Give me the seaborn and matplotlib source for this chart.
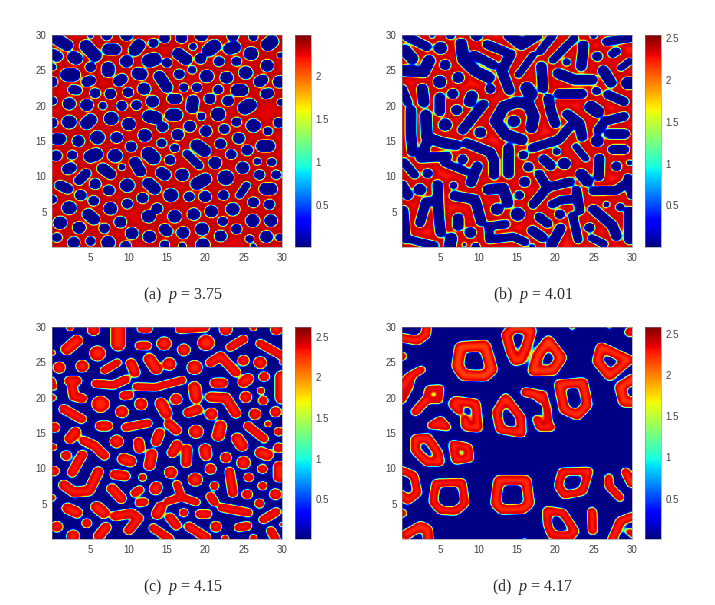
import matplotlib
matplotlib.use("Agg")
import matplotlib.pyplot as plt
import numpy as np
import seaborn as sns

# Shapes in axis units: (half width, x0, y0, x1, y1, ...)
# The heatmap cells are derived from these, they are not read one by one.
SHAPES_A = [
    (.8,.5,29.5,1.9,28.6),(.85,4.4,28.5,5.6,27.1),(.8,7.3,28,8.2,28),(.85,10.8,27.9,11.3,28.6),
    (.65,13.2,28.9),(.7,14.7,29.6),(.75,16.9,29.6),(.5,18.4,28.4),(.9,20.5,27.9,21.2,28.5),
    (.85,23.2,28.1,23.8,28.3),(.95,26,27.4),(.9,28.2,28.7,28.7,29.1),(.4,5,30),(.7,7.1,30),
    (.8,9.7,30),(.85,19.5,30),(.8,23.6,30),(.6,26.3,29.8),(.75,.1,27.3,.6,27),(.85,2.8,26.9,3.1,26.7),
    (.85,9.7,26.3),(.95,12.7,26.4,13.3,26.6),(.65,15,26.1),(.8,16.5,27.4,17.5,26.6),(.75,19.4,26.7),
    (.7,21.8,26.3),(.65,24.1,26.3),(.85,28.1,25.7),(.4,29.8,27.2),(.5,0,25.5),(.7,5,25.5),
    (.85,7.3,25.4,7.3,24.9),(.95,2,24.4,2.7,24.4),(.7,4.5,23.4,5,23.6),(.75,8.7,23.5,9.1,23.8),
    (.85,11.2,24.6,11.6,24.5),(.75,14,24.2,15,22.6),(.7,16.6,24.5),(.55,18.3,25.1),(.9,20.2,24.2),
    (.85,22.8,24),(.9,25.3,24.7),(.75,27.1,23.4,27.5,23.7),(.85,29.7,23.4),(.7,0,23.4),
    (.65,2.7,22.3,3.2,22.2),(.7,5.6,21.8),(.75,7.6,21.7),(.7,9.9,21.9),(.85,12,22.4),(.6,17.2,22.6),
    (.65,18.9,22.6),(.65,21.7,22.3),(.85,24.2,22.2,24.8,22.2),(.7,27.9,21.7,28.3,21.8),(.6,0,20.7),
    (.85,2.2,20.3),(.85,4.5,20.1),(.55,6.6,20),(.7,9.1,20),(.7,11,20.1),(.85,13.1,20.6),
    (.7,15.7,21,16.3,21),(.8,18.3,19.7,18.4,20.7),(.75,20.6,21),(.75,23,20.7),(.95,25.2,19.7,25.8,20.1),
    (.5,29.9,20.5),(.55,19.5,18.5),(.95,21.7,18.8),(.85,15.6,18.7,16.2,18.7),(.9,12.7,18.5,13.5,18.3),
    (.95,7.7,18.2),(.85,4.5,17.5,5,18),(.95,2.2,17.7),(.7,0,17.6),(.9,10,17.4),(.75,14.4,17),(.8,18,17.1),
    (.8,20.1,16.4),(.7,22.5,16.7),(.65,24.1,17.7),(.95,26.3,17.2),(.7,29.6,17.6),(.8,16.4,15.9),
    (.6,28.2,16.4),(.9,12.1,15.8),(.95,5.9,15.5),(.8,8.4,15.5),(.8,.5,15.3,1,15.3),(.8,3.4,15),
    (.65,14.3,14.7),(.8,24.4,15.4),(.85,27.5,14.3,28.3,14.3),(.75,22,14.6),(.6,16,14),(.75,10.3,14.2),
    (.85,18.9,14.4,19.9,13.6),(.95,8.2,12.9),(.9,5,12.8,5.7,13.1),(.65,2.6,13),(.75,.5,12.9),
    (.95,12.6,13.2,13.2,12.6),(.7,15.4,12.3),(.55,17.6,13.2,19.2,11.5),(.7,23.4,13.1),(.75,25.5,13.7),
    (.85,21.3,11.9),(.5,26.8,12.1),(.6,28.7,12),(.45,9.1,11.3),(.75,10.8,12,11.5,10.7),(.75,2,11,2.4,11.2),
    (.75,6.6,11.1,7.6,10.3),(.8,14.3,10.5,14.7,10.2),(.9,17,10.2),(.85,24.9,11.2),(.7,27.1,10.2),
    (.65,29.3,10.2),(.65,3.5,9.4,4.4,10.4),(.75,5.6,8.9),(.95,9.8,8.7),(.8,12.6,9,13.4,8.2),
    (.85,18.9,8.9,20,9.6),(1.05,22.7,9.8),(.7,1,8.7,2,8.2),(.75,7.4,8),(.75,3.7,7.3),(.95,15.5,7.3),
    (.7,17.9,7.1),(.8,20,7.1),(.7,22.4,7.3),(.5,25.4,8.7,24.5,7.3),(.85,27.9,8.2,28.6,8.2),(.75,11.8,6.9),
    (.7,5.4,6.5),(.7,9.8,6.1),(.75,26.3,6.3),(.7,28.4,6),(.6,0,6.7),(.95,2.2,5.5),(.9,7.6,5.4),
    (.75,13.7,5.4),(.85,18.5,4.6),(.9,16,4.3),(.85,20.8,5),(.9,23.6,5.3),(.8,4.7,4.6,5.4,3.9),
    (.9,12.6,4.3),(.8,8.9,3.5),(.9,26.2,3.7),(.85,28.6,3.7),(.9,1,3.4),(.65,22.3,3.6),(.85,3.5,2.7),
    (.7,6.8,2.6),(.75,14.7,2.5,15,2.2),(.7,24.1,2.5),(.9,19.6,2.5),(.85,17.1,2),(.85,10.4,1.9),
    (.85,12.7,1.4),(.8,22,1.5),(.55,25.8,1.1),(.85,28,1.4),(.65,.6,1.3),(.8,2.8,.6),(.65,5,.8),
    (.9,7.3,.6),(.7,9.6,.1),(.6,14.7,.3),(.5,17,.1),(.9,19.7,.3),(.4,26.3,0),(.5,29.7,1.3),
]

SHAPES_B = [
    (.65,.6,29.8,3.2,28.4),(.4,3.9,30),(.6,6.3,30),(.9,5,28.2),(.8,.3,27.9,1.3,26.7),(.8,9.7,30),
    (.65,11.1,28.7,13.4,27.7),(.8,7.7,28.8,8,26.5,9.6,24.9,11.3,24),(.65,9.4,27.2,11.9,25.8),
    (.8,0,25,2.8,24.8,3.5,26.4),(.75,5.6,25.8),(.8,7.3,24),(.9,4.9,23.4),(.7,14.2,27.3,13,25,14,22.2),
    (.5,17.1,27.2,15.2,24.4),(.8,14,30,15.6,28.7,17.5,30),(.55,19.7,30,18,27.7),(.55,22.5,29.6,19.7,26.5),
    (.55,21.5,26.2),(.7,23.7,28.6,23.4,25.6),(.7,25.5,27),(.6,27.5,27.4,28,27.7),(.6,26.7,29.1,29.8,29.6),
    (.5,25,30),(.7,18.2,25.6,18.4,22.5),(.75,20.4,24.6,22.5,23.7,24.8,23.7),(.75,26.3,25,27.3,23.3),
    (.5,28.6,25.4,29.7,26.3),(.9,29.5,23.2,29.7,23.2),(.9,16.3,22.5,16.8,21.6),(.75,2.6,22.4,2.8,20.5),
    (.6,0,22.4,.7,20.5),(.75,6.6,21.7),(.8,9.1,21.4,8.8,20.6),(.7,11.5,22.4),(.7,4.9,21.2,4.9,19.2),
    (.75,7.1,19.4),(.7,20.5,21.7,23.5,21.7),(.6,25.4,22.1),(.65,26.9,21.6,29,20.6),(.9,24.7,19.8,25.5,19.2),
    (.8,15.6,15.2,13.5,15.9,12.2,17.8,13.3,19.9,15,20.5,16.5,20.2,17.2,18.5,16.9,16.9),(.85,14.6,17.8),
    (.7,19.1,21,19.5,19,20,17.5),(.7,1.1,19.4,1.1,16,1.3,13.5),(.75,3.1,18.7,3.2,15.6,5,14.8,7,14.4),
    (.7,3.3,15,2.4,12.6,5.8,12.8),(.55,5.5,11.9,8.3,10.7),(.9,5.6,17.3),(.7,10.6,20.2,7.9,16.6),
    (.8,10.2,16.2),(.7,7.9,12.4),(.7,8.4,14.7,11.5,13.4,12,12.2,12,10.2),(.7,13.9,14,13.9,10.3),
    (.7,9.8,11.4,9,9.1),(.65,15.8,13),(.65,21.9,17,20.5,15.2,17,14),(.7,21.6,18.8,23.2,17.5,23.5,15.6),
    (.65,29,18.5,26.5,17.8,25.6,16.5),(.7,27.1,16,29.1,16),(.85,25.5,15),(.7,27.6,13.8,29,13.8),
    (.55,20.2,13.5),(.5,22.7,14.2,24,12.5),(.7,18.5,12.4,19.4,11.5),(.85,21.2,11.8),(.7,16.5,11.3),
    (.7,25.8,12.5,25.7,10),(.7,28,11.4),(.4,29.7,11.9),(.8,23.4,10.3,24.2,9.3),(.6,.2,12,1.6,10.2),
    (.7,3.3,10.4),(.7,0,8.7,.7,7.3),(.85,2.3,8.1),(.55,6.7,8.7),(.7,4.6,8.8,4.8,4,5,2),
    (.65,4.7,6.5,3.1,6.4,2.3,3.4),(.75,16,9.2),(.75,11.2,8.1,13.2,8.3,13.8,6.2),
    (.7,6.8,7.2,9.5,6.7,10.3,3.6),(.85,12.4,5.3),(.65,15.3,7.3),(.65,17.9,10.3,19,8.4,17.1,6),
    (.65,19,8.4,21.9,9.2),(.6,19.6,6,20.7,6.6,22,6.7),(.65,22.8,8,23.2,5.1),(.65,25,7.9,28,8,29.3,9),
    (.6,29.5,9.8,30,7.3),(.45,26.7,6),(.6,28.5,5.6),(.7,29.7,5,29.7,1),(.7,25,5.3,27.5,3,28,1.5),
    (.75,7.3,4,7.3,3),(.95,15.1,4.6),(.6,.2,5.2,.5,1),(.65,17.9,4.2,19,3.3),(.7,20.6,4.6),
    (.6,22.3,4.4,23,1),(.7,24.5,2.7),(.8,8.9,2),(.6,13.5,3.2,11.3,2.9,11.4,1,14.5,1.4,16,.7),
    (.7,17,2.3,18.3,1.3),(.7,20.7,2.6,19.5,.2),(.55,1,1,4.2,.2),(.8,6.4,1.2,6.2,0),(.3,8.1,.3),
    (.6,9.6,0),(.4,17,0),(.55,24.8,1.2,26.4,.4),
]

SHAPES_C = [
    (.5,2.3,30),(.8,5.4,29.6),(.95,8.6,29.8,8.6,27.6),(.6,11.7,29.8,12.5,29.8),(.6,16.7,29.7,20,30),
    (.85,22.7,29.7),(.5,26.3,30),(.8,29.3,29.7),(.8,1.9,26.9,3.2,28.1),(.4,0,26.4),(1.05,5.9,26.3),
    (.6,11.4,27.4,12.4,27.4),(.95,14.6,27.7),(.85,17.2,26.8),(1.1,20.1,27.8),(.6,23.3,27.2,25,28.3),
    (.6,27.2,27.7,30,26),(.8,.9,24.3),(.85,3.9,24.5),(.55,6.8,23.9,8.5,25),(.7,10.3,24.9,10.8,23.6),
    (.8,12.7,25.5,13.6,24.1),(.9,15.3,24.8),(1,18.6,24.3),(.65,20.7,25,22,25.9,24,23.6),(.75,25,25.3),
    (.85,27.2,25),(.3,30,25),(.4,0,22.5,.2,21.5),(.5,0,20),(.65,2.2,22.4,3.2,22.4),
    (.65,2.5,22.4,2.8,20.2,3.9,19.9),(.6,5.7,22,8,21.8,9.6,22.6),(.55,11,21.6,13.5,21.5,17,22.5),
    (.7,21.3,22.1,22.3,22.1),(.75,25,22.2,25.6,22.7),(.7,27.7,23),(.5,27.3,21),(.85,30,23,30,20),
    (.8,18.6,21.5,18.8,20),(.65,9.4,20.3,10,20.4),(.8,16.2,19.8),(1.15,6.3,19.1),(.85,11.6,19.1),
    (.8,14.2,19.2,14.9,17.8),(.7,20.7,20.1,22.7,20,24,17.8),(.8,25.3,20.1),(.65,27.6,19.6),(.85,9.1,18),
    (.65,1.5,18.4,3.8,17),(.7,17.8,17.9,19,18.3),(.85,20.8,17.7),(.8,26.5,17.7),(.75,29.2,18),
    (.7,6.3,16,7.2,16),(.6,9.6,15.8,12.5,16.4),(.7,15.3,16.3,16.2,15.4),(.95,18.8,15.2),
    (.8,22,16,21.7,14.6),(.6,25.6,16,27.7,14.2),(.45,28.2,16.3),(.6,29.6,15.2),(.7,.3,15.8),
    (.75,2.3,14.2,3,15.1),(.7,13.6,13.8,14,15),(.8,24.2,14.2,24.8,13.2),(.9,8.4,13.8),
    (.7,11.3,13.7,11.4,12.8),(.65,4.1,13.9,5.5,13.2,6.8,11.8),(.7,15.7,12.2,16.3,13.3),(.5,.1,13),
    (.7,1.8,11.8),(.7,17.6,12.7,17.5,10.8),(.8,20,12.7,20.1,11.9),(.8,27.3,12.2,28.1,11.9),(.7,29.6,12.9),
    (.75,22.7,11.5),(.9,25,10.8),(.75,13,12,12.7,10.4),(.8,9.3,11.3,10.2,11),(.65,3.9,11.9,2.6,9.4),
    (.7,.2,9.6),(.75,20.7,9.9),(.65,27.5,9.9),(.8,29.7,10.2,29.7,8.8),(.85,15.5,9.4),
    (.7,1.5,7.6,2.8,6.6,4.8,6.8,6,9.5),(.7,8.2,9.1,9.5,8.9),(.55,11.8,8.7),(.95,18.7,8.4),
    (.65,23.2,9.5,23.6,6.5),(.65,25.7,8.7),(.6,27.5,7.5),(.6,21.2,7.5),(.8,13.6,7.3,13.5,7),
    (.55,16.3,7.7,16.9,5.9),(.55,15.1,5.3,16.9,5.9,18.8,5.2),(.7,7.8,7.1,9,5.7),(.6,10.8,6.5,11.4,6.9),
    (.6,20.7,6,21.2,5.2),(.7,25.5,6.3),(.8,29.2,6.3),(.45,0,5.8),(.75,2,4.3,3.2,3.7),(.8,5.8,4.5,6.7,3.7),
    (.6,11.4,5.1,12,5.2),(.75,13.7,3.5,14.2,4.5),(.65,27.1,5),(.6,22.2,4.4,25.6,3.7),(.6,17.2,3.7),
    (.6,19.3,3.5,20.3,3.5),(.6,27.6,2.7,29.3,3.8),(.65,8.2,3.2,10.3,3.6,11.3,2.9,10,1.2),(.65,4.5,2.2),
    (.65,15.4,3,16.2,1.9),(.75,.6,1.7),(.75,21.4,1.7),(.6,24.4,1.6,25.5,1.8),(.85,2.7,.4),
    (.7,7,1.6,6.1,.4),(.6,13.2,1.5,15.3,0),(.65,17.9,1.7,20.1,.2),(.5,22.6,0),(.5,26.3,.1),
    (.6,28.6,1.1,29.2,0),(.3,30,2),
]

SHAPES_D = [
    (.65,-.5,28.6,2,28.1,3.1,29,3.2,30.5),(.65,0,25.9),
    (.8,7.6,27.2,10.8,27.4,11.7,24,10.8,23.1,8,23.2,7.2,24.5,7.6,27.2),
    (.7,13.6,29,14.7,30,16.9,29.5,16.2,27.2,15.5,25.4,14.8,25.2,14.2,26.5,13.6,29),
    (.75,19.1,28.1,20.8,25.7,19.7,23.9,17.1,23.8,17.8,26.1,19.1,28.1),
    (.7,26,27.2,29.6,25.4,27.1,23.1,25.5,25.2,26,27.2),(.75,30.2,22.7,28.5,21.5,29,19.4,30.3,19.4),
    (.7,20.5,21.9,23.6,22.2,24.2,19,22.9,17.5,21.2,18.3,20.5,21.9),(.6,2.5,24,.8,23,0,21.4),
    (.45,1.3,23,1,21.5,0,19.5),(.5,3.4,21.3,5,21.4,4.8,19.6,3.1,19.7,3.4,21.3),(.65,3.1,19.7,1.7,18),
    (.55,3.7,16.1,5,16.9,5.9,15.8,3.7,16.1),(.65,6.9,19.6,9.6,19.2,9.9,15.7,8.3,15.9,8.2,17),
    (.65,6.6,19.1,7.4,18.2),(.65,12.35,18,13.5,20,15.5,17.2,15.6,15,12.8,15.5,12.35,18),
    (.7,16.1,20.8,17.5,20.5,18,19.9),(.55,18.4,20.6,18.9,18.5,19.2,15.9),(.6,17.6,17,18,15.8,19.5,15.8),
    (.65,1.7,14.2,3.3,14.3,4.6,12.3,4.9,10.9,3.2,10.9,1.7,12.5,1.7,14.2),
    (.6,6.6,13.4,8.6,13,8.8,11.4,7,11.1,6.6,13.4),(.6,-.3,9.8,1.5,9,2,6.5,.7,5.4,-.3,6.5),
    (.6,4.4,7.9,7.8,8,8.2,5,7,3.9,5,4,4,5.2,4.4,7.9),
    (.7,12.6,8.3,16.2,8.3,16.6,5,15.8,4.2,13,4.1,12.2,5,12.6,8.3),
    (.6,20.9,9.5,24.4,9.6,23.6,6.7,21.2,6.2,20.4,7.5,20.9,9.5),(.6,27,8.7,27,7.5,28.5,5.8),
    (.65,29.2,9.5,30,7.8),(.65,0,3.6),(.65,24.8,3.9,24.9,1.1),
    (.6,18.9,4,21,3.7,22.6,1,22,.4,19.5,.6,19,2,18.9,4),(.7,.5,.6,2.4,1.8,3.3,1.3,3.4,-.3),
    (.65,27.4,-.3,28.5,2.5,30.5,3.3),(.5,29.6,1,30.3,.5),(.3,16,0),(.45,22.2,30),(.35,27.1,30),(.7,29.7,29.3),
]

XTICKS = [5, 10, 15, 20, 25, 30]
YTICKS = [5, 10, 15, 20, 25, 30]
CAPTIONS = ["(a)", "(b)", "(c)", "(d)"]
P_VALUES = ["3.75", "4.01", "4.15", "4.17"]
VMIN = [0.01, 0.0, 0.01, 0.01]
VMAX = [2.47, 2.54, 2.62, 2.58]
PEAK = [2.36, 2.4, 2.44, 2.44]
INNER = [2.26, 2.26, 2.28, 2.05]
CBAR_TICKS = [
    [0.5, 1, 1.5, 2],
    [0.5, 1, 1.5, 2, 2.5],
    [0.5, 1, 1.5, 2, 2.5],
    [0.5, 1, 1.5, 2, 2.5],
]
# rounding of the measured outlines and the loss it causes, per panel
SMOOTH = [0.14, 0.18, 0.18, 0.3]
GROW = [0.05, 0.03, 0.05, 0.0]

W, H = 715, 605
N = 300


def shape_distance(xx, yy, shapes):
    """Signed distance to the nearest shape edge, negative inside a shape."""
    out = np.full(xx.shape, np.inf)
    for shape in shapes:
        r = shape[0]
        pts = np.array(shape[1:]).reshape(-1, 2)
        if len(pts) == 1:
            pts = np.vstack([pts, pts])
        for a, b in zip(pts[:-1], pts[1:]):
            ab = b - a
            t = (xx - a[0]) * ab[0] + (yy - a[1]) * ab[1]
            t = np.clip(t / max(ab @ ab, 1e-9), 0, 1)
            d = np.hypot(xx - a[0] - t * ab[0], yy - a[1] - t * ab[1]) - r
            out = np.minimum(out, d)
    return out


def blur(field, sigma):
    """Gaussian blur through the FFT, padded so that the edges do not wrap."""
    pad = 60
    big = np.pad(field, pad, mode="edge")
    fy = np.fft.fftfreq(big.shape[0])
    fx = np.fft.rfftfreq(big.shape[1])
    gain = np.exp(-2 * (np.pi * sigma) ** 2 * (fy[:, None] ** 2 + fx[None, :] ** 2))
    big = np.fft.irfft2(np.fft.rfft2(big) * gain, s=big.shape)
    return big[pad:-pad, pad:-pad]


def build_field(shapes, high_inside, i):
    xs = np.linspace(0, 30, N)
    ys = np.linspace(30, 0, N)
    xx, yy = np.meshgrid(xs, ys)
    depth = shape_distance(xx, yy, shapes)
    depth = blur(depth, SMOOTH[i] / 30 * N) - GROW[i]
    if high_inside:
        depth = -depth
    rim = 0.5 * (1 + np.tanh(depth / 0.09))
    crest = PEAK[i] - (PEAK[i] - INNER[i]) * np.clip((depth - 0.15) / 0.6, 0, 1)
    return VMIN[i] + 0.02 + (crest - VMIN[i] - 0.02) * rim


def panel(fig, field, left, top, i):
    ax = fig.add_axes([left / W, 1 - (top + 212) / H, 230 / W, 212 / H])
    cax = fig.add_axes([(left + 243) / W, 1 - (top + 212) / H, 16 / W, 212 / H])
    sns.heatmap(
        field,
        ax=ax,
        cbar_ax=cax,
        cmap="jet",
        vmin=VMIN[i],
        vmax=VMAX[i],
        xticklabels=False,
        yticklabels=False,
    )
    ax.set_xticks([v / 30 * N for v in XTICKS], [str(v) for v in XTICKS])
    ax.set_yticks(
        [(30 - v) / 30 * N for v in YTICKS],
        [str(v) for v in YTICKS],
        rotation=0,
    )
    ax.tick_params(length=0, labelsize=7, labelcolor="#404040", pad=4)
    for s in ax.spines.values():
        s.set_visible(True)
        s.set_linewidth(0.4)
        s.set_color("#808080")

    cbar = ax.collections[0].colorbar
    cbar.set_ticks(CBAR_TICKS[i], labels=[f"{v:g}" for v in CBAR_TICKS[i]])
    cbar.ax.tick_params(
        length=2, width=0.4, direction="in", labelsize=7, labelcolor="#404040",
        color="#404040", pad=3,
    )
    cbar.outline.set_visible(True)
    cbar.outline.set_linewidth(0.4)
    cbar.outline.set_edgecolor("#808080")

    fig.text(
        (left + 131) / W,
        1 - (top + 260) / H,
        rf"{CAPTIONS[i]}  $p$ = {P_VALUES[i]}",
        ha="center",
        va="center",
        fontsize=11.5,
        family="Liberation Serif",
    )


def main():
    sns.set_theme(style="white")
    plt.rcParams["font.family"] = ["Liberation Sans", "DejaVu Sans"]
    plt.rcParams["mathtext.fontset"] = "custom"
    plt.rcParams["mathtext.it"] = "Liberation Serif:italic"
    plt.rcParams["mathtext.rm"] = "Liberation Serif"

    fig = plt.figure(figsize=(W / 100, H / 100), dpi=100)
    panel(fig, build_field(SHAPES_A, False, 0), 52, 35, 0)
    panel(fig, build_field(SHAPES_B, False, 1), 402, 35, 1)
    panel(fig, build_field(SHAPES_C, True, 2), 52, 327, 2)
    panel(fig, build_field(SHAPES_D, True, 3), 402, 327, 3)
    fig.savefig("out.png", dpi=100)


if __name__ == "__main__":
    main()
